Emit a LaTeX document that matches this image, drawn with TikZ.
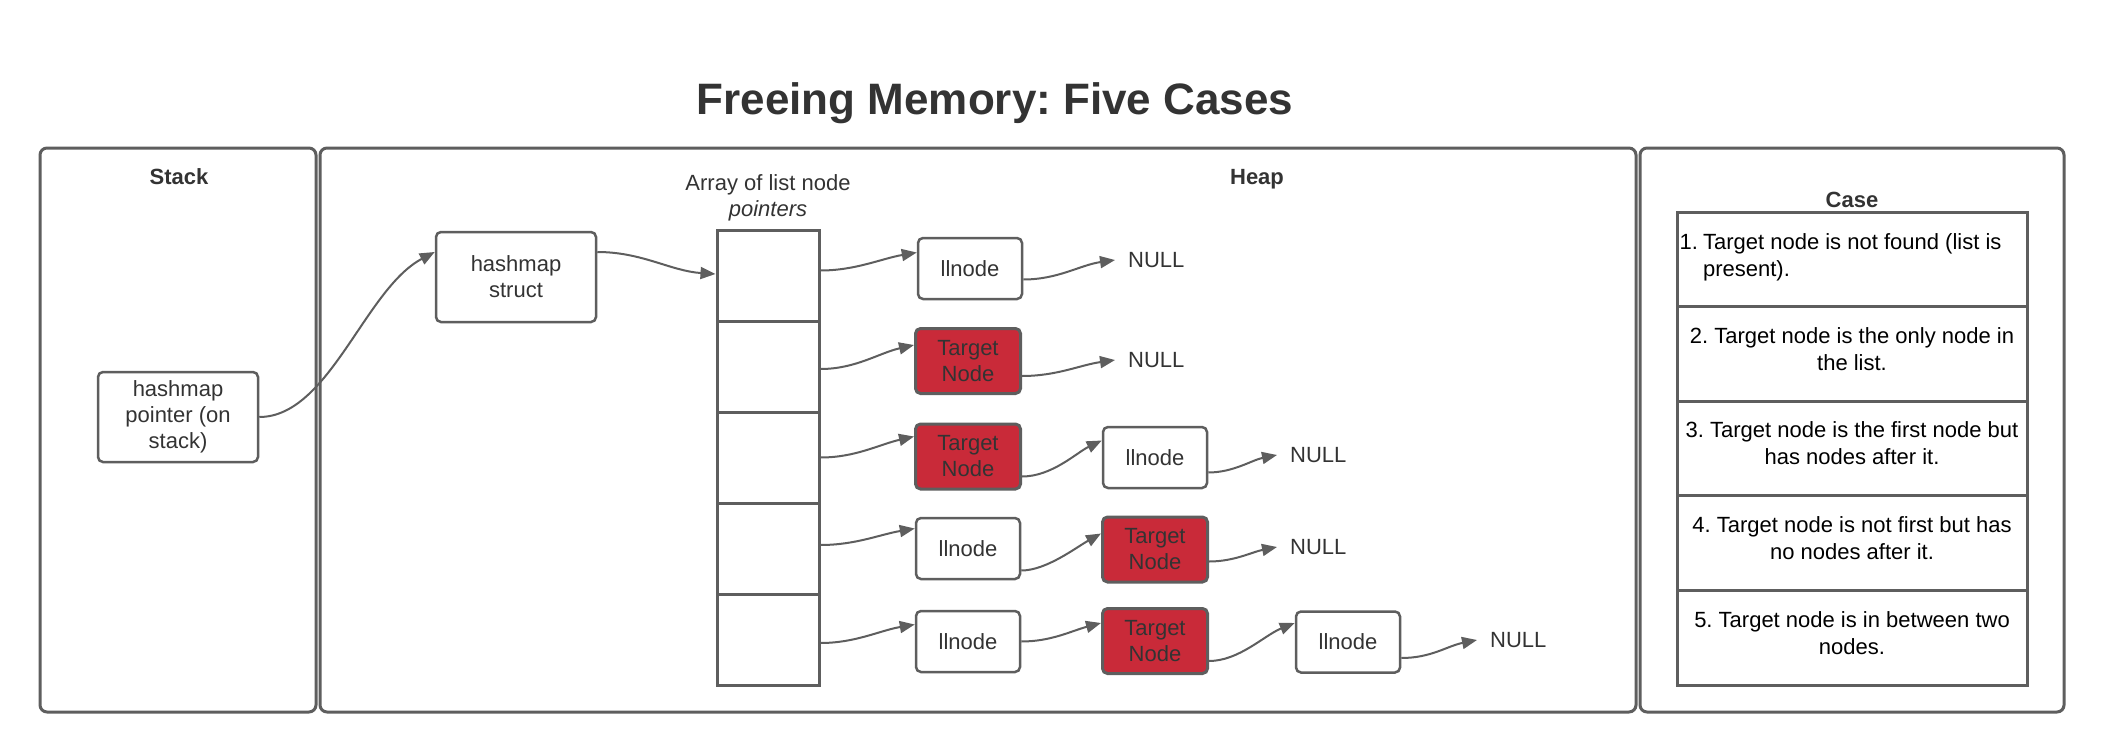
\documentclass[tikz,border=0pt]{standalone}
\usepackage{fontspec}
\setmainfont{Liberation Sans}
\usetikzlibrary{arrows.meta,calc}
\definecolor{edge}{HTML}{5E5E5E}
\definecolor{txt}{HTML}{333333}
\definecolor{tred}{HTML}{C92A39}
\frenchspacing
\begin{document}
\begin{tikzpicture}[x=1pt,y=-1pt,
  font=\fontsize{22}{26}\selectfont,
  panel/.style={draw=edge,line width=3pt,rounded corners=7pt,inner sep=0pt},
  box/.style={draw=edge,line width=2.5pt,rounded corners=5pt,fill=white,text=txt,minimum width=104pt,minimum height=61pt,inner sep=0pt,align=center},
  bigbox/.style={box,minimum width=160pt,minimum height=90pt},
  tgt/.style={box,fill=tred,line width=3pt,minimum width=105pt,minimum height=65pt},
  cell/.style={draw=edge,line width=3pt,minimum width=102pt,minimum height=91pt,inner sep=0pt},
  nul/.style={text=txt,inner xsep=13pt,inner ysep=0pt,anchor=west},
  arr/.style={draw=edge,line width=2pt,-{Triangle[length=15pt,width=12pt]}},
  lbl/.style={text=txt,font=\fontsize{22}{26}\selectfont\bfseries,anchor=base},
  caserow/.style={draw=edge,line width=3pt,minimum width=350pt,minimum height=94.6pt,inner sep=0pt},
  casetxt/.style={text=black,align=center,inner sep=0pt,font=\fontsize{22}{27}\selectfont},
]
\useasboundingbox (0,0) rectangle (2106,752);

% title
\node[text=txt,font=\fontsize{44}{52}\selectfont\bfseries,anchor=base] (title) at (995,114) {Freeing Memory: Five Cases};

% panels
\node[panel,minimum width=276pt,minimum height=564pt] (stackp) at (178,430) {};
\node[panel,minimum width=1316pt,minimum height=564pt] (heapp) at (978,430) {};
\node[panel,minimum width=424pt,minimum height=564pt] (casep) at (1852,430) {};
\node[lbl] (stacklbl) at (179,184) {Stack};
\node[lbl] (heaplbl) at (1257,184) {Heap};
\node[lbl] (caselbl) at (1852,207) {Case};

% stack / hashmap
\node[bigbox] (hp) at (178,417) {hashmap\\pointer (on\\stack)};
\node[bigbox] (hs) at (516,277) {hashmap\\struct};

% array
\node[text=txt,align=center,inner sep=0pt] (arrlbl) at (768,198) {Array of list node\\\textit{pointers}};
\node[cell] (c1) at (768,275.5) {};
\node[cell] (c2) at (768,366.5) {};
\node[cell] (c3) at (768,457.5) {};
\node[cell] (c4) at (768,548.5) {};
\node[cell] (c5) at (768,639.5) {};

% row 1
\node[box] (l11) at (970,268.5) {llnode};
\node[nul] (n1) at (1115,260) {NULL};
% row 2
\node[tgt] (t21) at (968,361) {Target\\Node};
\node[nul] (n2) at (1115,360) {NULL};
% row 3
\node[tgt] (t31) at (968,456.5) {Target\\Node};
\node[box] (l32) at (1155,457.5) {llnode};
\node[nul] (n3) at (1277,455) {NULL};
% row 4
\node[box] (l41) at (968,548.5) {llnode};
\node[tgt] (t42) at (1155,549.5) {Target\\Node};
\node[nul] (n4) at (1277,547) {NULL};
% row 5
\node[box] (l51) at (968,641.5) {llnode};
\node[tgt] (t52) at (1155,641) {Target\\Node};
\node[box] (l53) at (1348,642) {llnode};
\node[nul] (n5) at (1477,640) {NULL};

% connectors
\draw[arr] (hp.east) .. controls +(70,0) and +(-70,37) .. ([yshift=25pt]hs.west);
\draw[arr] ([yshift=25pt]hs.east) .. controls +(45,0) and +(-45,-3) .. ([yshift=1.5pt]c1.west);

\draw[arr] ([yshift=5pt]c1.east) .. controls +(35,0) and +(-35,6) .. ([yshift=16pt]l11.west);
\draw[arr] ([yshift=-11pt]l11.east) .. controls +(35,0) and +(-35,5) .. (n1.west);

\draw[arr] ([yshift=-2.5pt]c2.east) .. controls +(35,0) and +(-35,8) .. ([yshift=16pt]t21.west);
\draw[arr] ([yshift=-15pt]t21.east) .. controls +(35,0) and +(-35,5) .. (n2.west);

\draw[arr] (c3.east) .. controls +(35,0) and +(-35,8) .. ([yshift=20pt]t31.west);
\draw[arr] ([yshift=-20pt]t31.east) .. controls +(30,0) and +(-25,12) .. ([yshift=17pt]l32.west);
\draw[arr] ([yshift=-15pt]l32.east) .. controls +(25,0) and +(-25,5) .. (n3.west);

\draw[arr] ([yshift=3.5pt]c4.east) .. controls +(35,0) and +(-35,6) .. ([yshift=20pt]l41.west);
\draw[arr] ([yshift=-22pt]l41.east) .. controls +(25,0) and +(-25,14) .. ([yshift=16pt]t42.west);
\draw[arr] ([yshift=-12pt]t42.east) .. controls +(25,0) and +(-25,5) .. (n4.west);

\draw[arr] ([yshift=-3.5pt]c5.east) .. controls +(35,0) and +(-35,6) .. ([yshift=17pt]l51.west);
\draw[arr] (l51.east) .. controls +(30,0) and +(-30,8) .. ([yshift=18pt]t52.west);
\draw[arr] ([yshift=-20pt]t52.east) .. controls +(30,0) and +(-30,12) .. ([yshift=19pt]l53.west);
\draw[arr] ([yshift=-16pt]l53.east) .. controls +(30,0) and +(-30,6) .. (n5.west);

% case table
\node[caserow] (r1) at (1852,259.3) {};
\node[caserow] (r2) at (1852,353.9) {};
\node[caserow] (r3) at (1852,448.5) {};
\node[caserow] (r4) at (1852,543.1) {};
\node[caserow] (r5) at (1852,637.7) {};
\node[casetxt,anchor=base west] (r1t) at ([xshift=4pt,yshift=-39pt]r1.north west)
  {\begin{tabular}[t]{@{}l@{\hspace{5pt}}l@{}}1.&Target node is not found (list is\\&present).\end{tabular}};
\node[casetxt] (r2t) at ([yshift=5pt]r2.center) {2. Target node is the only node in\\the list.};
\node[casetxt] (r3t) at ([yshift=5pt]r3.center) {3. Target node is the first node but\\has nodes after it.};
\node[casetxt] (r4t) at ([yshift=5pt]r4.center) {4. Target node is not first but has\\no nodes after it.};
\node[casetxt] (r5t) at ([yshift=5pt]r5.center) {5. Target node is in between two\\nodes.};
\end{tikzpicture}
\end{document}
